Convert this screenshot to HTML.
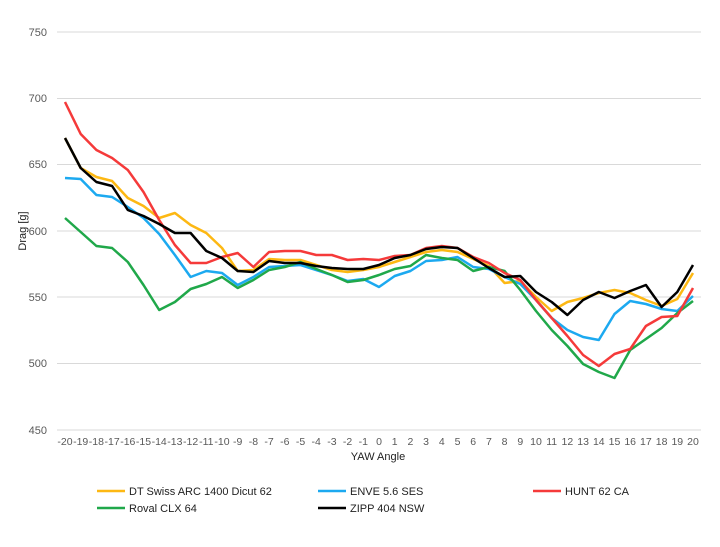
<!DOCTYPE html>
<html><head><style>body{margin:0;background:#fff}svg{display:block;font-family:"Liberation Sans",sans-serif}</style></head><body>
<svg width="720" height="547" viewBox="0 0 720 547">
<g stroke="#d9d9d9" stroke-width="1">
<line x1="57" x2="701" y1="32" y2="32"/><line x1="57" x2="701" y1="98.5" y2="98.5"/><line x1="57" x2="701" y1="164.5" y2="164.5"/><line x1="57" x2="701" y1="231" y2="231"/><line x1="57" x2="701" y1="297" y2="297"/><line x1="57" x2="701" y1="363.5" y2="363.5"/><line x1="57" x2="701" y1="430" y2="430"/>
</g>
<g fill="#595959" font-size="11" text-anchor="end">
<text x="47" y="36">750</text><text x="47" y="102">700</text><text x="47" y="168">650</text><text x="47" y="235">600</text><text x="47" y="301">550</text><text x="47" y="367">500</text><text x="47" y="434">450</text>
</g>
<g id="xl" fill="#595959" font-size="10.5" text-anchor="middle"></g>
<text x="378" y="460" font-size="11" text-anchor="middle" fill="#222">YAW Angle</text>
<text transform="translate(26,231) rotate(-90)" font-size="11" text-anchor="middle" fill="#222">Drag [g]</text>
<g id="ser" fill="none" stroke-width="2.5" stroke-linejoin="round"></g>
<g stroke-width="2.5">
<line x1="97" x2="125" y1="491" y2="491" stroke="#fdb813"/><line x1="318" x2="346" y1="491" y2="491" stroke="#1ca9f0"/><line x1="533" x2="561" y1="491" y2="491" stroke="#f53a3a"/>
<line x1="97" x2="125" y1="508" y2="508" stroke="#20a84a"/><line x1="318" x2="346" y1="508" y2="508" stroke="#000"/>
</g>
<g font-size="11" fill="#222">
<text x="129" y="495">DT Swiss ARC 1400 Dicut 62</text><text x="350" y="495">ENVE 5.6 SES</text><text x="565" y="495">HUNT 62 CA</text>
<text x="129" y="512">Roval CLX 64</text><text x="350" y="512">ZIPP 404 NSW</text>
</g>
</svg>
<script>
var ns="http://www.w3.org/2000/svg";
var xl=document.getElementById("xl");
for(var i=0;i<=40;i++){var t=document.createElementNS(ns,"text");t.setAttribute("x",65+i*15.7);t.setAttribute("y",445);t.textContent=i-20;xl.appendChild(t);}
var S=[
["#fdb813",[138,168,177,181,198,206,218,213,225,233,248,271,270,259,260,260,265,270,272,270,267,262,257,252,250,252,259,266,283,281,297,311,302,298,293,290,293,300,306,299,273]],
["#1ca9f0",[178,179,195,197,207,218,234,255,277,271,273,285,277,267,266,265,270,275,281,279,287,276,271,261,260,257,267,269,277,284,300,318,330,337,340,314,301,304,309,311,296]],
["#20a84a",[218,232,246,248,262,285,310,302,289,284,277,288,280,270,267,262,269,275,282,280,275,269,266,255,258,260,271,267,271,290,311,330,346,364,372,378,350,339,328,313,301]],
["#f53a3a",[102,134,150,158,170,192,220,245,263,263,257,253,267,252,251,251,255,255,260,259,260,256,255,248,246,248,257,263,273,280,300,318,336,355,366,354,349,326,317,316,288]],
["#000000",[138,168,182,186,210,216,224,233,233,251,258,271,272,261,263,263,266,268,269,269,265,258,255,249,247,248,258,268,277,276,292,302,315,300,292,298,291,285,307,292,265]]];
var g=document.getElementById("ser");
S.forEach(function(s){var p=document.createElementNS(ns,"polyline");p.setAttribute("stroke",s[0]);p.setAttribute("points",s[1].map(function(y,i){return (65+i*15.7).toFixed(1)+","+y}).join(" "));g.appendChild(p);});
</script>
</body></html>
